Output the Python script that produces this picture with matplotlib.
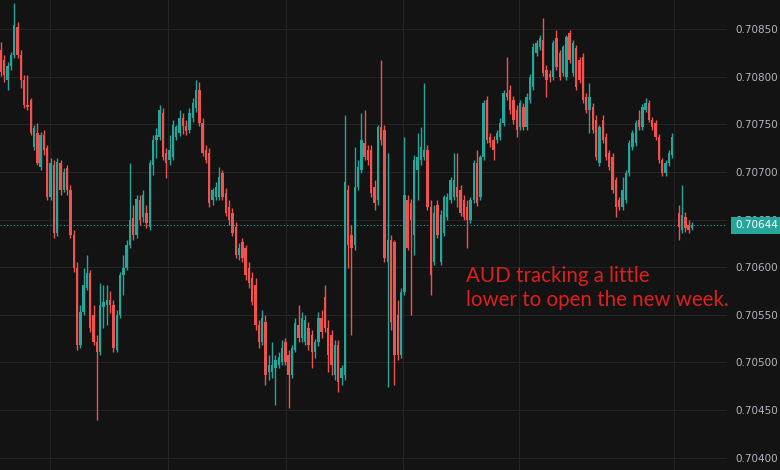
import numpy as np
import matplotlib
matplotlib.use("Agg")
import matplotlib.pyplot as plt
import matplotlib.transforms as mtransforms

nan = float("nan")

# OHLC of AUD/USD candles (a nan candle marks the weekend gap)
opens = [0.70828, 0.70817, 0.70796, 0.70811, 0.70823, 0.70852, 0.70823, 0.70796, 0.70770,
         0.70775, 0.70726, 0.70741, 0.70705, 0.70739, 0.70725, 0.70674, 0.70707, 0.70636, 0.70709,
         0.70681, 0.70704, 0.70681, 0.70634, 0.70599, 0.70518, 0.70553, 0.70578, 0.70594, 0.70550,
         0.70521, 0.70511, 0.70558, 0.70560, 0.70565, 0.70560, 0.70513, 0.70550, 0.70592, 0.70599, 0.70623,
         0.70652, 0.70634, 0.70670, 0.70653, 0.70657, 0.70642, 0.70707, 0.70733, 0.70737, 0.70762,
         0.70720, 0.70712, 0.70716, 0.70737, 0.70741, 0.70757, 0.70748, 0.70744, 0.70757, 0.70767, 0.70786,
         0.70751, 0.70723, 0.70720, 0.70670, 0.70674, 0.70674, 0.70699, 0.70678, 0.70663, 0.70657,
         0.70642, 0.70613, 0.70626, 0.70620, 0.70599, 0.70589, 0.70581, 0.70539, 0.70521, 0.70542, 0.70490,
         0.70490, 0.70494, 0.70497, 0.70500, 0.70521, 0.70508, 0.70487, 0.70513, 0.70539, 0.70526,
         0.70521, 0.70536, 0.70529, 0.70511, 0.70521, 0.70547, 0.70569, 0.70536, 0.70529, 0.70487, 0.70518,
         0.70484, 0.70487, 0.70681, 0.70634, 0.70623, 0.70684, 0.70702, 0.70730, 0.70723, 0.70723,
         0.70684, 0.70670, 0.70747, 0.70744, 0.70605, 0.70628, 0.70626, 0.70550, 0.70508, 0.70574,
         0.70670, 0.70667, 0.70634, 0.70702, 0.70712, 0.70716, 0.70723, 0.70663, 0.70605, 0.70665,
         0.70605, 0.70636, 0.70653, 0.70670, 0.70674, 0.70684, 0.70681, 0.70670, 0.70663, 0.70649,
         0.70670, 0.70709, 0.70674, 0.70716, 0.70775, 0.70737, 0.70733, 0.70733, 0.70737,
         0.70751, 0.70783, 0.70786, 0.70775, 0.70765, 0.70747, 0.70768, 0.70747, 0.70775, 0.70789,
         0.70825, 0.70831, 0.70838, 0.70807, 0.70803, 0.70800, 0.70841, 0.70825, 0.70804, 0.70800,
         0.70846, 0.70804, 0.70830, 0.70817, 0.70821, 0.70779, 0.70765, 0.70768, 0.70754,
         0.70709, 0.70754, 0.70737, 0.70720, 0.70716, 0.70691, 0.70670, 0.70663, 0.70670, 0.70699,
         0.70726, 0.70730, 0.70754, 0.70747, 0.70765, 0.70772, 0.70754, 0.70751, 0.70737,
         0.70712, 0.70699, 0.70709, 0.70718, nan,
         0.70657, 0.70639, 0.70653, 0.70644, 0.70641]

highs = [0.70836, 0.70823, 0.70815, 0.70826, 0.70877, 0.70857, 0.70828, 0.70802, 0.70802,
         0.70778, 0.70749, 0.70751, 0.70742, 0.70744, 0.70728, 0.70715, 0.70712, 0.70715, 0.70712,
         0.70704, 0.70707, 0.70686, 0.70639, 0.70605, 0.70560, 0.70599, 0.70613, 0.70597, 0.70560,
         0.70529, 0.70583, 0.70581, 0.70581, 0.70575, 0.70565, 0.70555, 0.70595, 0.70613, 0.70628, 0.70709,
         0.70665, 0.70676, 0.70676, 0.70681, 0.70665, 0.70712, 0.70739, 0.70746, 0.70770, 0.70767,
         0.70725, 0.70739, 0.70754, 0.70749, 0.70765, 0.70762, 0.70754, 0.70767, 0.70778, 0.70796, 0.70794,
         0.70757, 0.70728, 0.70725, 0.70683, 0.70689, 0.70705, 0.70702, 0.70683, 0.70670, 0.70662,
         0.70647, 0.70625, 0.70631, 0.70623, 0.70605, 0.70595, 0.70589, 0.70544, 0.70555, 0.70550, 0.70508,
         0.70521, 0.70508, 0.70511, 0.70523, 0.70526, 0.70513, 0.70518, 0.70547, 0.70560, 0.70553,
         0.70550, 0.70542, 0.70534, 0.70525, 0.70553, 0.70555, 0.70581, 0.70544, 0.70534, 0.70523, 0.70523,
         0.70497, 0.70760, 0.70686, 0.70644, 0.70726, 0.70712, 0.70762, 0.70765, 0.70728, 0.70728,
         0.70691, 0.70749, 0.70817, 0.70749, 0.70720, 0.70634, 0.70628, 0.70565, 0.70578, 0.70737,
         0.70676, 0.70672, 0.70718, 0.70741, 0.70747, 0.70793, 0.70728, 0.70670, 0.70665, 0.70670,
         0.70660, 0.70676, 0.70678, 0.70695, 0.70720, 0.70720, 0.70686, 0.70676, 0.70670, 0.70674,
         0.70712, 0.70723, 0.70718, 0.70775, 0.70780, 0.70741, 0.70738, 0.70744, 0.70757,
         0.70786, 0.70821, 0.70791, 0.70780, 0.70770, 0.70775, 0.70772, 0.70783, 0.70803, 0.70835,
         0.70838, 0.70844, 0.70862, 0.70812, 0.70807, 0.70838, 0.70849, 0.70828, 0.70833, 0.70844,
         0.70849, 0.70838, 0.70833, 0.70821, 0.70825, 0.70783, 0.70793, 0.70772, 0.70760,
         0.70749, 0.70760, 0.70741, 0.70723, 0.70720, 0.70695, 0.70674, 0.70695, 0.70702, 0.70733,
         0.70744, 0.70754, 0.70765, 0.70771, 0.70778, 0.70775, 0.70758, 0.70754, 0.70740,
         0.70715, 0.70712, 0.70723, 0.70741, nan,
         0.70665, 0.70686, 0.70658, 0.70649, 0.70647]

lows = [0.70801, 0.70794, 0.70786, 0.70807, 0.70820, 0.70820, 0.70788, 0.70767, 0.70765,
        0.70739, 0.70723, 0.70707, 0.70702, 0.70718, 0.70670, 0.70670, 0.70631, 0.70633, 0.70676,
        0.70679, 0.70676, 0.70631, 0.70595, 0.70513, 0.70515, 0.70550, 0.70576, 0.70532, 0.70518,
        0.70439, 0.70508, 0.70536, 0.70539, 0.70552, 0.70511, 0.70511, 0.70547, 0.70571, 0.70597, 0.70620,
        0.70628, 0.70631, 0.70644, 0.70647, 0.70641, 0.70639, 0.70697, 0.70715, 0.70733, 0.70712,
        0.70694, 0.70707, 0.70712, 0.70733, 0.70738, 0.70740, 0.70739, 0.70741, 0.70752, 0.70763, 0.70748,
        0.70717, 0.70709, 0.70663, 0.70665, 0.70670, 0.70670, 0.70670, 0.70654, 0.70644, 0.70633,
        0.70610, 0.70608, 0.70605, 0.70586, 0.70578, 0.70560, 0.70534, 0.70515, 0.70518, 0.70476, 0.70481,
        0.70484, 0.70455, 0.70494, 0.70497, 0.70497, 0.70452, 0.70484, 0.70511, 0.70521, 0.70521,
        0.70518, 0.70513, 0.70494, 0.70505, 0.70517, 0.70526, 0.70532, 0.70490, 0.70487, 0.70481, 0.70469,
        0.70476, 0.70481, 0.70599, 0.70529, 0.70618, 0.70681, 0.70699, 0.70712, 0.70707, 0.70674,
        0.70660, 0.70665, 0.70728, 0.70605, 0.70474, 0.70534, 0.70476, 0.70502, 0.70505, 0.70571,
        0.70618, 0.70550, 0.70613, 0.70670, 0.70707, 0.70712, 0.70660, 0.70571, 0.70602, 0.70631,
        0.70602, 0.70633, 0.70649, 0.70667, 0.70670, 0.70663, 0.70654, 0.70649, 0.70620, 0.70646,
        0.70667, 0.70664, 0.70670, 0.70712, 0.70730, 0.70726, 0.70712, 0.70730, 0.70733,
        0.70748, 0.70775, 0.70761, 0.70750, 0.70737, 0.70744, 0.70744, 0.70744, 0.70772, 0.70786,
        0.70822, 0.70828, 0.70801, 0.70779, 0.70794, 0.70796, 0.70807, 0.70796, 0.70801, 0.70796,
        0.70814, 0.70801, 0.70786, 0.70793, 0.70772, 0.70762, 0.70741, 0.70741, 0.70712,
        0.70706, 0.70730, 0.70712, 0.70702, 0.70678, 0.70653, 0.70660, 0.70660, 0.70667, 0.70696,
        0.70723, 0.70727, 0.70744, 0.70744, 0.70763, 0.70752, 0.70744, 0.70733, 0.70709,
        0.70696, 0.70696, 0.70706, 0.70715, nan,
        0.70628, 0.70636, 0.70637, 0.70636, 0.70639]

closes = [0.70805, 0.70802, 0.70811, 0.70823, 0.70854, 0.70823, 0.70796, 0.70770, 0.70768,
          0.70741, 0.70746, 0.70709, 0.70739, 0.70723, 0.70674, 0.70709, 0.70636, 0.70710, 0.70681,
          0.70700, 0.70681, 0.70634, 0.70599, 0.70518, 0.70553, 0.70581, 0.70594, 0.70536, 0.70521,
          0.70511, 0.70560, 0.70563, 0.70565, 0.70560, 0.70515, 0.70550, 0.70592, 0.70599, 0.70623, 0.70649,
          0.70634, 0.70672, 0.70649, 0.70676, 0.70646, 0.70709, 0.70733, 0.70739, 0.70765, 0.70716,
          0.70709, 0.70723, 0.70749, 0.70747, 0.70757, 0.70748, 0.70743, 0.70762, 0.70772, 0.70786, 0.70751,
          0.70720, 0.70712, 0.70667, 0.70681, 0.70684, 0.70695, 0.70674, 0.70657, 0.70649, 0.70636,
          0.70613, 0.70620, 0.70610, 0.70592, 0.70583, 0.70563, 0.70539, 0.70521, 0.70547, 0.70487, 0.70497,
          0.70497, 0.70502, 0.70506, 0.70515, 0.70500, 0.70487, 0.70515, 0.70541, 0.70526, 0.70547,
          0.70544, 0.70518, 0.70511, 0.70521, 0.70547, 0.70532, 0.70536, 0.70508, 0.70497, 0.70518, 0.70479,
          0.70494, 0.70689, 0.70623, 0.70620, 0.70684, 0.70705, 0.70733, 0.70716, 0.70712, 0.70678,
          0.70667, 0.70747, 0.70733, 0.70610, 0.70628, 0.70542, 0.70508, 0.70508, 0.70574, 0.70676,
          0.70620, 0.70649, 0.70712, 0.70716, 0.70726, 0.70723, 0.70663, 0.70592, 0.70657, 0.70634,
          0.70655, 0.70674, 0.70674, 0.70691, 0.70691, 0.70674, 0.70657, 0.70653, 0.70649, 0.70670,
          0.70709, 0.70667, 0.70716, 0.70772, 0.70733, 0.70730, 0.70723, 0.70741, 0.70751,
          0.70783, 0.70779, 0.70765, 0.70754, 0.70744, 0.70772, 0.70747, 0.70779, 0.70800, 0.70831,
          0.70835, 0.70841, 0.70804, 0.70796, 0.70800, 0.70835, 0.70810, 0.70800, 0.70831, 0.70842,
          0.70817, 0.70835, 0.70789, 0.70796, 0.70775, 0.70765, 0.70779, 0.70744, 0.70716,
          0.70747, 0.70733, 0.70716, 0.70705, 0.70681, 0.70663, 0.70663, 0.70681, 0.70699, 0.70730,
          0.70741, 0.70751, 0.70747, 0.70768, 0.70772, 0.70754, 0.70747, 0.70737, 0.70712,
          0.70699, 0.70709, 0.70720, 0.70737, nan,
          0.70642, 0.70655, 0.70641, 0.70639, 0.70644]

price_ticks = [0.70400, 0.70450, 0.70500, 0.70550, 0.70600, 0.70650,
               0.70700, 0.70750, 0.70800, 0.70850]
last_price = 0.70644
session_breaks = [14.8, 50.5, 86.1, 121.5, 156.8, 203.6]
annotation = "AUD tracking a little\nlower to open the new week."

BG = "#131313"
GRID = "#242424"
UP = "#26a69a"
DOWN = "#ef5350"
LABEL = "#b2b5be"
NOTE = "#dd1f1f"

fig = plt.figure(figsize=(7.8, 4.7), dpi=100, facecolor=BG)
ax = fig.add_axes([0, 0, 727 / 780, 1])
ax.set_facecolor(BG)

o = np.array(opens, dtype=float)
h = np.array(highs, dtype=float)
l = np.array(lows, dtype=float)
c = np.array(closes, dtype=float)
x = np.arange(len(o))
ok = ~np.isnan(o)
col = np.where(c >= o, UP, DOWN)

ax.vlines(x[ok], l[ok], h[ok], colors=col[ok], linewidth=1.0, zorder=3)
bottom = np.minimum(o, c)
height = np.maximum(np.abs(c - o), 0.000012)
ax.bar(x[ok], height[ok], bottom=bottom[ok], width=0.72, color=col[ok],
       linewidth=0, zorder=4)

ax.set_xlim(-0.3, 219.6)
ax.set_ylim(0.70387, 0.708805)

ax.yaxis.tick_right()
ax.set_yticks(price_ticks)
ax.set_yticklabels([f"{t:.5f}" for t in price_ticks])
ax.tick_params(axis="y", length=0, pad=6, labelcolor=LABEL, labelsize=7.5)
ax.set_xticks(session_breaks)
ax.tick_params(axis="x", length=0, labelbottom=False)
for s in ax.spines.values():
    s.set_visible(False)
ax.grid(True, color=GRID, linewidth=0.8, zorder=0)
ax.set_axisbelow(True)

ax.axhline(last_price, color=UP, linestyle=(0, (1, 2)), linewidth=0.8, zorder=2)
trans = mtransforms.blended_transform_factory(ax.transAxes, ax.transData)
ax.text(1.0 + 8 / 727, last_price, f"{last_price:.5f}", transform=trans,
        ha="left", va="center", color="white", fontsize=7.5, clip_on=False,
        bbox=dict(boxstyle="square,pad=0.35", fc=UP, ec="none"), zorder=10)

ax.text(466 / 727, 1 - 266 / 470, annotation, transform=ax.transAxes,
        ha="left", va="top", color=NOTE, fontsize=14.8, family="Lato",
        linespacing=1.25, zorder=11, clip_on=False)

fig.savefig("out.png", dpi=100, facecolor=BG)
